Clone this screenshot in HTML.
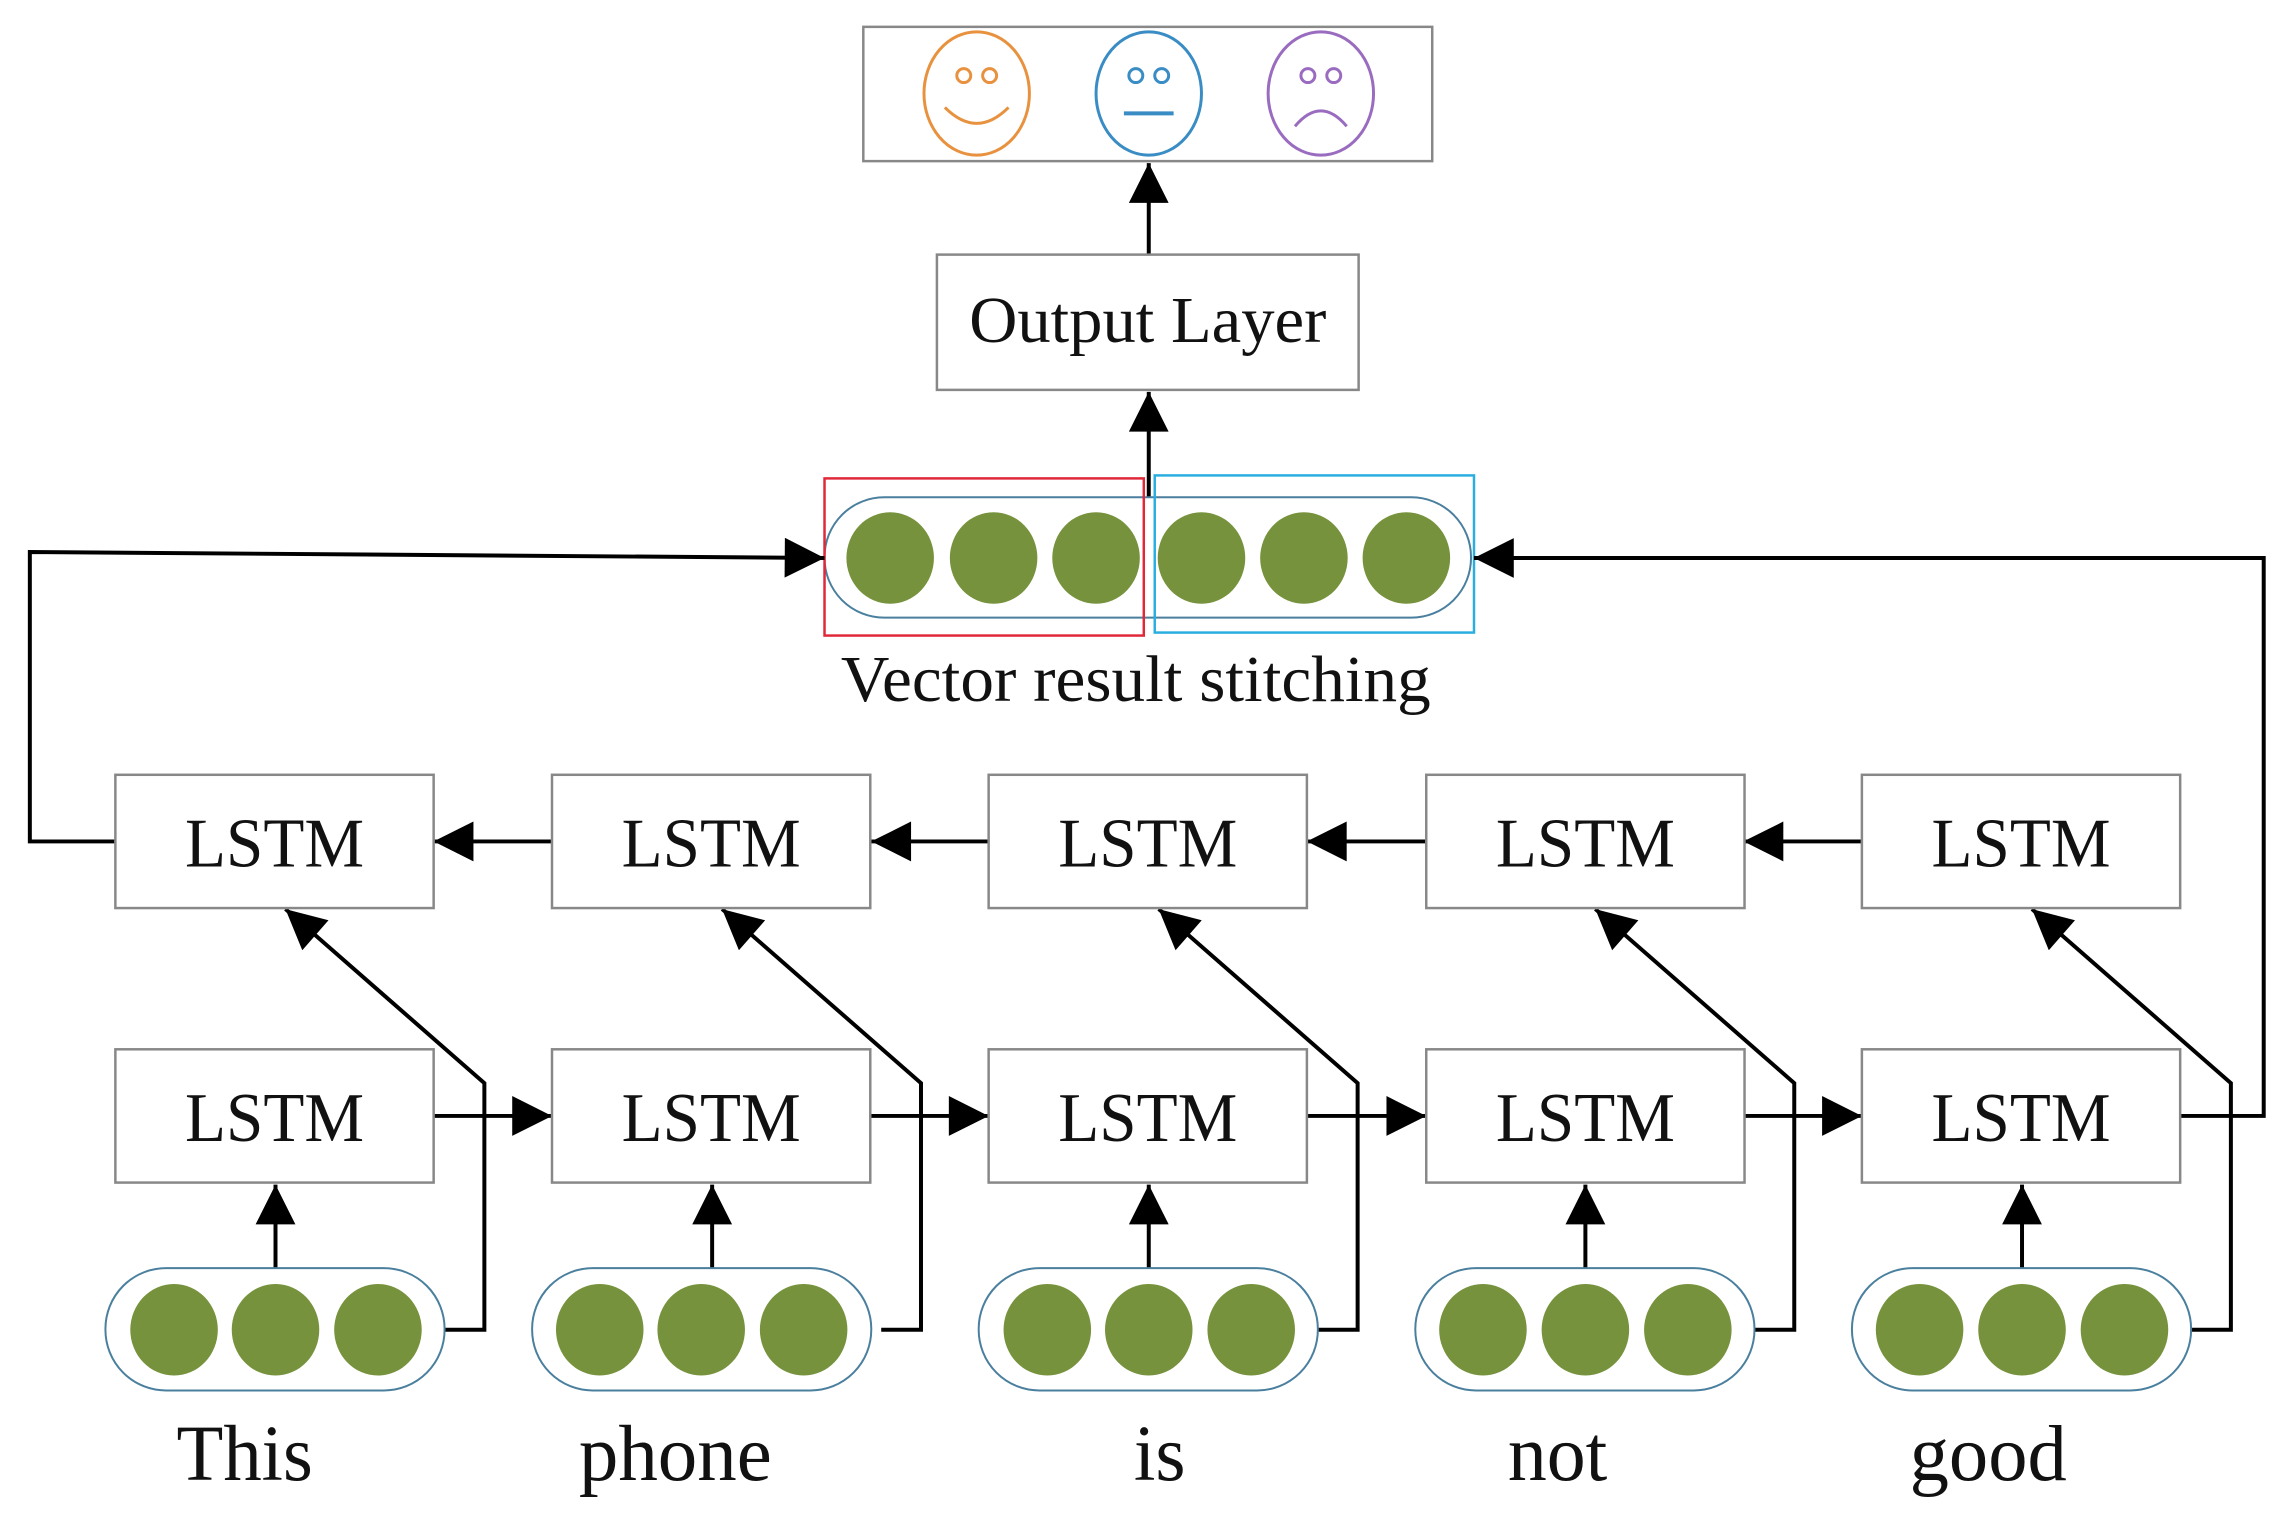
<!DOCTYPE html>
<html><head><meta charset="utf-8"><style>
html,body{margin:0;padding:0;background:#fff;}
svg{display:block;}
text{font-family:"Liberation Serif",serif;fill:#111;}
</style></head><body>
<svg width="2296" height="1525" viewBox="0 0 2296 1525" xmlns="http://www.w3.org/2000/svg">
<defs>
<marker id="a" viewBox="0 0 10 10" refX="10" refY="5" markerUnits="userSpaceOnUse" markerWidth="44" markerHeight="40" orient="auto">
<path d="M0,0 L10,5 L0,10 z" fill="#000"/>
</marker>
</defs>
<rect width="2296" height="1525" fill="#fff"/>
<g transform="scale(0.9946)">
<rect x="868" y="27" width="572" height="135" fill="#fff" stroke="#888" stroke-width="2.5"/>
<g fill="none" stroke-width="3">
<ellipse cx="982" cy="94" rx="53" ry="62" stroke="#e8923f"/>
<circle cx="969" cy="76" r="7" stroke="#e8923f"/><circle cx="995" cy="76" r="7" stroke="#e8923f"/>
<path d="M950,108 Q982,140 1014,108" stroke="#e8923f"/>
<ellipse cx="1155" cy="94" rx="53" ry="62" stroke="#3a8cc4"/>
<circle cx="1142" cy="76" r="7" stroke="#3a8cc4"/><circle cx="1168" cy="76" r="7" stroke="#3a8cc4"/>
<line x1="1130" y1="114" x2="1180" y2="114" stroke="#3a8cc4" stroke-width="4"/>
<ellipse cx="1328" cy="94" rx="53" ry="62" stroke="#9a6cc0"/>
<circle cx="1315" cy="76" r="7" stroke="#9a6cc0"/><circle cx="1341" cy="76" r="7" stroke="#9a6cc0"/>
<path d="M1302,127 Q1328,96 1354,127" stroke="#9a6cc0"/>
</g>
<line x1="1155" y1="256" x2="1155" y2="164" stroke="#000" stroke-width="4" marker-end="url(#a)"/>

<rect x="942" y="256" width="424" height="136" fill="#fff" stroke="#888" stroke-width="2.5"/>
<text x="1154" y="344" font-size="66" text-anchor="middle" textLength="359" lengthAdjust="spacingAndGlyphs">Output Layer</text>
<line x1="1155" y1="500" x2="1155" y2="394" stroke="#000" stroke-width="4" marker-end="url(#a)"/>

<rect x="829" y="500" width="650" height="121" rx="60" fill="#fff" stroke="#4a7f9e" stroke-width="2"/>
<g fill="#76923c">
<ellipse cx="895" cy="561" rx="44" ry="46"/><ellipse cx="999" cy="561" rx="44" ry="46"/><ellipse cx="1102" cy="561" rx="44" ry="46"/>
<ellipse cx="1208" cy="561" rx="44" ry="46"/><ellipse cx="1311" cy="561" rx="44" ry="46"/><ellipse cx="1414" cy="561" rx="44" ry="46"/>
</g>
<rect x="829" y="481" width="321" height="158" fill="none" stroke="#e0283a" stroke-width="2.5"/>
<rect x="1161" y="478" width="321" height="158" fill="none" stroke="#2aaee0" stroke-width="2.5"/>
<text x="1142" y="705" font-size="66" text-anchor="middle" textLength="593" lengthAdjust="spacingAndGlyphs">Vector result stitching</text>

<polyline points="116,846 30,846 30,555 829,561" fill="none" stroke="#000" stroke-width="4" marker-end="url(#a)"/>
<polyline points="2192,1122 2276,1122 2276,561 1482,561" fill="none" stroke="#000" stroke-width="4" marker-end="url(#a)"/>

<g stroke="#000" stroke-width="4" fill="none">
<line x1="555" y1="846" x2="436" y2="846" marker-end="url(#a)"/>
<line x1="994" y1="846" x2="876" y2="846" marker-end="url(#a)"/>
<line x1="1434" y1="846" x2="1314" y2="846" marker-end="url(#a)"/>
<line x1="1872" y1="846" x2="1753" y2="846" marker-end="url(#a)"/>
<line x1="436" y1="1122" x2="555" y2="1122" marker-end="url(#a)"/>
<line x1="876" y1="1122" x2="994" y2="1122" marker-end="url(#a)"/>
<line x1="1314" y1="1122" x2="1434" y2="1122" marker-end="url(#a)"/>
<line x1="1753" y1="1122" x2="1872" y2="1122" marker-end="url(#a)"/>
<line x1="277" y1="1275" x2="277" y2="1191" marker-end="url(#a)"/>
<line x1="716" y1="1275" x2="716" y2="1191" marker-end="url(#a)"/>
<line x1="1155" y1="1275" x2="1155" y2="1191" marker-end="url(#a)"/>
<line x1="1594" y1="1275" x2="1594" y2="1191" marker-end="url(#a)"/>
<line x1="2033" y1="1275" x2="2033" y2="1191" marker-end="url(#a)"/>
<polyline points="447,1337 487,1337 487,1089 287,914" marker-end="url(#a)"/>
<polyline points="886,1337 926,1337 926,1089 726,914" marker-end="url(#a)"/>
<polyline points="1325,1337 1365,1337 1365,1089 1165,914" marker-end="url(#a)"/>
<polyline points="1764,1337 1804,1337 1804,1089 1604,914" marker-end="url(#a)"/>
<polyline points="2203,1337 2243,1337 2243,1089 2043,914" marker-end="url(#a)"/>
</g>

<g fill="#fff" stroke="#888" stroke-width="2.5">
<rect x="116" y="779" width="320" height="134"/><rect x="555" y="779" width="320" height="134"/><rect x="994" y="779" width="320" height="134"/><rect x="1434" y="779" width="320" height="134"/><rect x="1872" y="779" width="320" height="134"/>
<rect x="116" y="1055" width="320" height="134"/><rect x="555" y="1055" width="320" height="134"/><rect x="994" y="1055" width="320" height="134"/><rect x="1434" y="1055" width="320" height="134"/><rect x="1872" y="1055" width="320" height="134"/>
</g>
<g font-size="70" text-anchor="middle">
<text x="276" y="871" textLength="180" lengthAdjust="spacingAndGlyphs">LSTM</text>
<text x="715" y="871" textLength="180" lengthAdjust="spacingAndGlyphs">LSTM</text>
<text x="1154" y="871" textLength="180" lengthAdjust="spacingAndGlyphs">LSTM</text>
<text x="1594" y="871" textLength="180" lengthAdjust="spacingAndGlyphs">LSTM</text>
<text x="2032" y="871" textLength="180" lengthAdjust="spacingAndGlyphs">LSTM</text>
<text x="276" y="1147" textLength="180" lengthAdjust="spacingAndGlyphs">LSTM</text>
<text x="715" y="1147" textLength="180" lengthAdjust="spacingAndGlyphs">LSTM</text>
<text x="1154" y="1147" textLength="180" lengthAdjust="spacingAndGlyphs">LSTM</text>
<text x="1594" y="1147" textLength="180" lengthAdjust="spacingAndGlyphs">LSTM</text>
<text x="2032" y="1147" textLength="180" lengthAdjust="spacingAndGlyphs">LSTM</text>
</g>

<g fill="#fff" stroke="#4a7f9e" stroke-width="2">
<rect x="106" y="1275" width="341" height="123" rx="61"/>
<rect x="535" y="1275" width="341" height="123" rx="61"/>
<rect x="984" y="1275" width="341" height="123" rx="61"/>
<rect x="1423" y="1275" width="341" height="123" rx="61"/>
<rect x="1862" y="1275" width="341" height="123" rx="61"/>
</g>
<g fill="#76923c">
<ellipse cx="175" cy="1337" rx="44" ry="46"/><ellipse cx="277" cy="1337" rx="44" ry="46"/><ellipse cx="380" cy="1337" rx="44" ry="46"/>
<ellipse cx="603" cy="1337" rx="44" ry="46"/><ellipse cx="705" cy="1337" rx="44" ry="46"/><ellipse cx="808" cy="1337" rx="44" ry="46"/>
<ellipse cx="1053" cy="1337" rx="44" ry="46"/><ellipse cx="1155" cy="1337" rx="44" ry="46"/><ellipse cx="1258" cy="1337" rx="44" ry="46"/>
<ellipse cx="1491" cy="1337" rx="44" ry="46"/><ellipse cx="1594" cy="1337" rx="44" ry="46"/><ellipse cx="1697" cy="1337" rx="44" ry="46"/>
<ellipse cx="1930" cy="1337" rx="44" ry="46"/><ellipse cx="2033" cy="1337" rx="44" ry="46"/><ellipse cx="2136" cy="1337" rx="44" ry="46"/>
</g>
<g font-size="80" text-anchor="middle">
<text x="246" y="1488" textLength="137" lengthAdjust="spacingAndGlyphs">This</text>
<text x="679" y="1488" textLength="194" lengthAdjust="spacingAndGlyphs">phone</text>
<text x="1166" y="1488" textLength="52" lengthAdjust="spacingAndGlyphs">is</text>
<text x="1566" y="1488" textLength="100" lengthAdjust="spacingAndGlyphs">not</text>
<text x="1999" y="1488" textLength="158" lengthAdjust="spacingAndGlyphs">good</text>
</g>
</g>
</svg>
</body></html>
